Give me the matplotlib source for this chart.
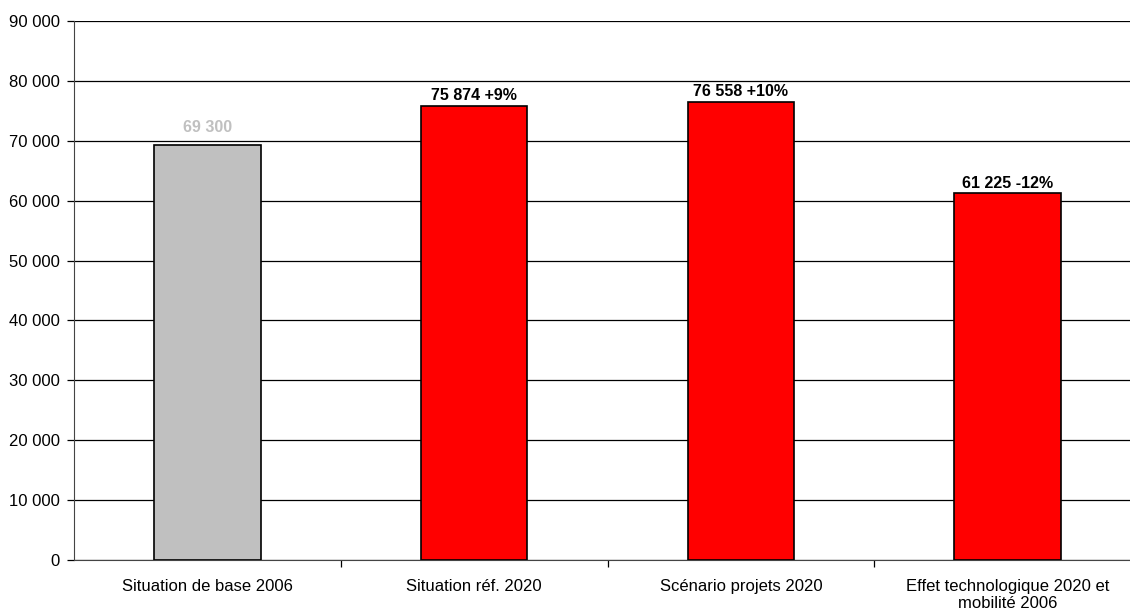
import matplotlib
matplotlib.use("Agg")
import matplotlib.pyplot as plt
from matplotlib.ticker import FuncFormatter, FixedLocator

plt.rcParams['font.family'] = ['Liberation Sans', 'DejaVu Sans']

categories = ["Situation de base 2006", "Situation réf. 2020",
              "Scénario projets 2020", "Effet technologique 2020 et\nmobilité 2006"]
values = [69300, 75874, 76558, 61225]
changes = ["", "+9%", "+10%", "-12%"]
bar_colors = ["#c0c0c0", "#ff0000", "#ff0000", "#ff0000"]
label_colors = ["#c0c0c0", "black", "black", "black"]
y_ticks = list(range(0, 90001, 10000))

fig = plt.figure(figsize=(11.3, 6.12), dpi=100)
ax = fig.add_axes([74 / 1130, 1 - 560 / 612, 1067 / 1130, 539 / 612])

x = list(range(len(categories)))
ax.bar(x, values, width=0.4, color=bar_colors, edgecolor="black", linewidth=1.2, zorder=3)

def fmt(v):
    return f"{int(v):,}".replace(",", " ")

for xi, v, ch, lc in zip(x, values, changes, label_colors):
    txt = fmt(v) + (" " + ch if ch else "")
    offset = 2 if ch else 7
    ax.annotate(txt, (xi, v), xytext=(0, offset), textcoords="offset points",
                ha="center", va="bottom", fontsize=11.5, fontweight="bold", color=lc)

ax.set_xlim(-0.5, len(categories) - 0.5)
ax.set_ylim(0, 90000)
ax.yaxis.set_major_locator(FixedLocator(y_ticks))
ax.yaxis.set_major_formatter(FuncFormatter(lambda v, p: fmt(v)))
ax.grid(axis="y", color="black", linewidth=0.9, zorder=0)

ax.set_xticks(x)
ax.set_xticklabels(categories, fontsize=12, linespacing=1.15)
ax.tick_params(axis="x", which="major", length=0, pad=14)
ax.set_xticks([i + 0.5 for i in x[:-1]], minor=True)
ax.tick_params(axis="x", which="minor", length=5, width=0.9, direction="out")
ax.tick_params(axis="y", length=5, width=0.9, labelsize=12, pad=5)

for s in ["top", "right"]:
    ax.spines[s].set_visible(False)
ax.spines["left"].set_color("#444444")
ax.spines["bottom"].set_color("#444444")

fig.savefig("out.png", dpi=100)
